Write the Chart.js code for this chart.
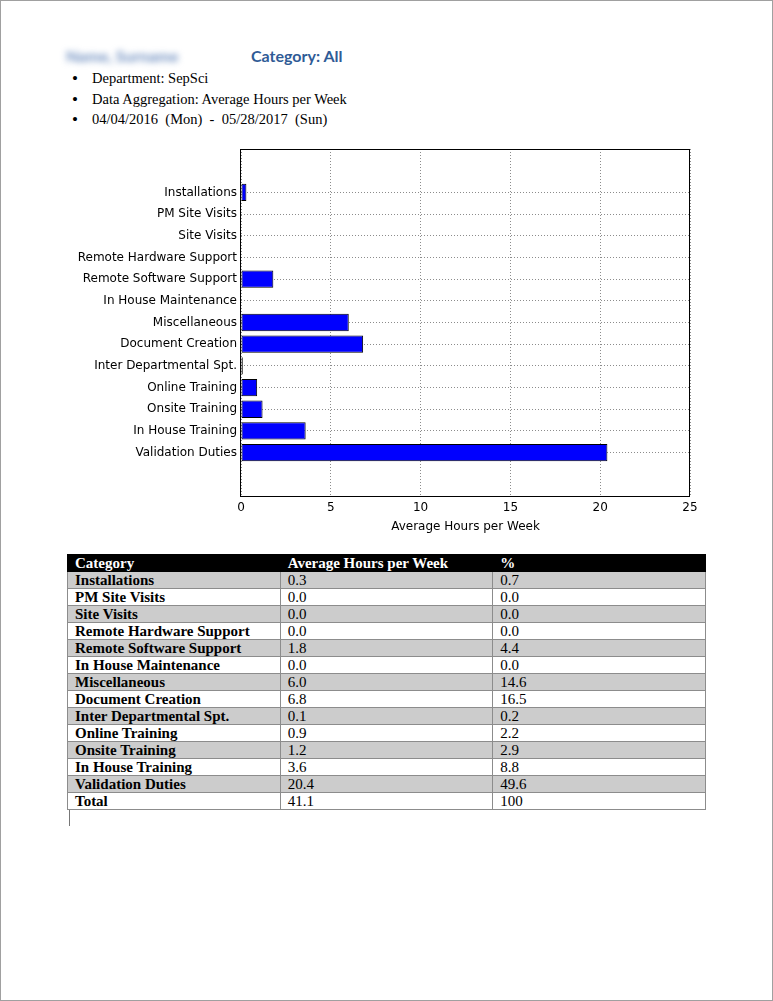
<!DOCTYPE html>
<html lang="en">
<head>
    <meta charset="UTF-8">
    <title>Category: All</title>
    <script src="https://cdn.jsdelivr.net/npm/chart.js@4"></script>
    <style>
        body { margin: 0; background: #fff; }
        .page { position: relative; width: 773px; height: 1001px; box-sizing: border-box; border: 1px solid #a0a0a0; background: #fff; overflow: hidden; }
        .name { position: absolute; left: 65px; top: 45px; font: 700 16px Lato, sans-serif; color: #6f8fc0; filter: blur(3px); }
        .cat { position: absolute; left: 250px; top: 45px; font: 700 16px Lato, sans-serif; color: #2f5b96; }
        ul.info { position: absolute; left: 71px; top: 69px; margin: 0; padding: 0; list-style: none; font: 14.5px "Liberation Serif", serif; color: #000; }
        ul.info li { height: 20.5px; white-space: pre; position: relative; padding-left: 20px; }
        ul.info li::before { content: "\2022"; position: absolute; left: 0; font-size: 17px; line-height: 17px; }
        .chart-box { position: absolute; left: 60px; top: 140px; width: 640px; height: 400px; }
        table.summary { position: absolute; left: 66px; top: 553px; width: 639px; border-collapse: collapse; font: 15px "Liberation Serif", serif; }
        table.summary td, table.summary th { border: 1px solid #8c8c8c; height: 16px; padding: 0 0 0 7px; line-height: 15px; text-align: left; width: 33.3%; }
        table.summary th { background: #000; color: #fff; font-weight: 700; border-color: #000; }
        table.summary td:first-child { font-weight: 700; }
        table.summary tr.shade td { background: #cccccc; }
        .cursor { position: absolute; left: 68px; top: 809px; width: 1px; height: 16px; background: #777; }
    </style>
</head>
<body>
<div class="page">
    <div class="name">Name, Surname</div>
    <div class="cat">Category: All</div>
    <ul class="info">
        <li>Department: SepSci</li>
        <li>Data Aggregation: Average Hours per Week</li>
        <li>04/04/2016  (Mon)  -  05/28/2017  (Sun)</li>
    </ul>
    <div class="chart-box"><canvas id="hoursChart"></canvas></div>
    <table class="summary" id="summary"></table>
    <div class="cursor"></div>
</div>
<script>
    const categories = ["Installations", "PM Site Visits", "Site Visits", "Remote Hardware Support",
        "Remote Software Support", "In House Maintenance", "Miscellaneous", "Document Creation",
        "Inter Departmental Spt.", "Online Training", "Onsite Training", "In House Training", "Validation Duties"];
    const hours = [0.3, 0.0, 0.0, 0.0, 1.8, 0.0, 6.0, 6.8, 0.1, 0.9, 1.2, 3.6, 20.4];
    const percents = [0.7, 0.0, 0.0, 0.0, 4.4, 0.0, 14.6, 16.5, 0.2, 2.2, 2.9, 8.8, 49.6];
    const totalHours = "41.1";
    const totalPercent = "100";
    const xMin = 0, xMax = 25, xStep = 5;

    // two empty slots above and below, like the matplotlib margins
    const yLabels = ["", "", ...categories, "", ""];
    const yValues = [null, null, ...hours, null, null];

    const dotted = "rgba(0,0,0,0.45)";

    const frame = {
        id: "frame",
        afterDraw(chart) {
            const a = chart.chartArea, ctx = chart.ctx;
            ctx.save();
            ctx.strokeStyle = "#000";
            ctx.lineWidth = 1;
            ctx.strokeRect(Math.round(a.left) - 0.5, Math.round(a.top) + 0.5, Math.round(a.right - a.left), Math.round(a.bottom - a.top));
            ctx.restore();
        }
    };

    new Chart(document.getElementById("hoursChart"), {
        type: "bar",
        data: {
            labels: yLabels,
            datasets: [{
                data: yValues,
                backgroundColor: "#0000ff",
                borderColor: "#000",
                borderWidth: ctx => ctx.raw ? 1 : 0,
                borderSkipped: false,
                categoryPercentage: 0.8,
                barPercentage: 1.0
            }]
        },
        options: {
            indexAxis: "y",
            responsive: true,
            maintainAspectRatio: false,
            animation: false,
            layout: { padding: { top: 8, right: 11, left: 0, bottom: 0 } },
            plugins: { legend: { display: false }, tooltip: { enabled: false } },
            scales: {
                x: {
                    type: "linear",
                    min: xMin,
                    max: xMax,
                    z: 1,
                    ticks: { stepSize: xStep, color: "#000", padding: 5, font: { family: "DejaVu Sans", size: 12 } },
                    grid: { color: dotted, lineWidth: 1, drawTicks: false },
                    border: { display: false, dash: [1, 2] },
                    title: { display: true, text: "Average Hours per Week", color: "#000", font: { family: "DejaVu Sans", size: 12 }, padding: { top: 0, bottom: 7 } },
                    afterFit: s => { s.height = 45; s.paddingLeft = 0; s.paddingRight = 0; }
                },
                y: {
                    offset: false,
                    z: 1,
                    ticks: { color: "#000", padding: 4, autoSkip: false, font: { family: "DejaVu Sans", size: 12 } },
                    grid: {
                        offset: false,
                        color: ctx => yLabels[ctx.index] ? dotted : "transparent",
                        lineWidth: 1,
                        drawTicks: false
                    },
                    border: { display: false, dash: [1, 2] },
                    afterFit: s => { s.width = 180; s.paddingTop = 0; s.paddingBottom = 0; }
                }
            }
        },
        plugins: [frame]
    });

    // summary table built from the same arrays
    const table = document.getElementById("summary");
    let html = "<tr><th>Category</th><th>Average Hours per Week</th><th>%</th></tr>";
    categories.forEach((c, i) => {
        html += `<tr class="${i % 2 === 0 ? "shade" : ""}"><td>${c}</td><td>${hours[i].toFixed(1)}</td><td>${percents[i].toFixed(1)}</td></tr>`;
    });
    html += `<tr><td>Total</td><td>${totalHours}</td><td>${totalPercent}</td></tr>`;
    table.innerHTML = html;
</script>
</body>
</html>
